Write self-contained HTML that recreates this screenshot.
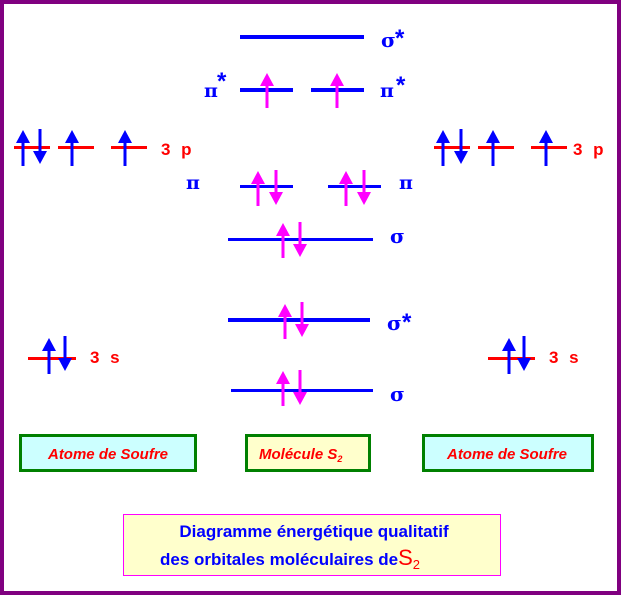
<!DOCTYPE html>
<html><head><meta charset="utf-8"><style>
html,body{margin:0;padding:0;background:#fff}
svg{display:block}
.b{font-family:"Liberation Sans",sans-serif;font-weight:bold}
.g{font-family:"DejaVu Serif","Liberation Serif",serif;font-weight:bold;fill:#0000ff}
</style></head><body>
<svg width="622" height="596" viewBox="0 0 622 596" xmlns="http://www.w3.org/2000/svg">
<defs>
<g id="upB"><rect x="-1.5" y="12" width="3" height="24" fill="#0000ff"/><polygon points="0,0 7,13 -7,13" fill="#0000ff"/></g>
<g id="dnB"><rect x="-1.5" y="0" width="3" height="24" fill="#0000ff"/><polygon points="0,35 7,22 -7,22" fill="#0000ff"/></g>
<g id="upM"><rect x="-1.5" y="12" width="3" height="23" fill="#ff00ff"/><polygon points="0,0 7,13 -7,13" fill="#ff00ff"/></g>
<g id="dnM"><rect x="-1.5" y="0" width="3" height="23" fill="#ff00ff"/><polygon points="0,35 7,22 -7,22" fill="#ff00ff"/></g>
</defs>
<rect x="2" y="2" width="617" height="591" fill="#fff" stroke="#800080" stroke-width="4"/>

<g fill="#ff0000">
<rect x="14" y="146" width="36" height="3"/><rect x="58" y="146" width="36" height="3"/><rect x="111" y="146" width="36" height="3"/>
<rect x="434" y="146" width="36" height="3"/><rect x="478" y="146" width="36" height="3"/><rect x="531" y="146" width="36" height="3"/>
<rect x="28" y="357" width="48" height="3"/><rect x="488" y="357" width="47" height="3"/>
</g>
<use href="#upB" x="23" y="130"/><use href="#dnB" x="40" y="129"/><use href="#upB" x="72" y="130"/><use href="#upB" x="125" y="130"/>
<use href="#upB" x="443" y="130"/><use href="#dnB" x="461" y="129"/><use href="#upB" x="493" y="130"/><use href="#upB" x="546" y="130"/>
<use href="#upB" x="49" y="338"/><use href="#dnB" x="65" y="336"/>
<use href="#upB" x="509" y="338"/><use href="#dnB" x="524" y="336"/>
<text class="b" x="161" y="155" font-size="17" fill="#ff0000" letter-spacing="3">3 p</text>
<text class="b" x="573" y="155" font-size="17" fill="#ff0000" letter-spacing="3">3 p</text>
<text class="b" x="90" y="363" font-size="17" fill="#ff0000" letter-spacing="3">3 s</text>
<text class="b" x="549" y="363" font-size="17" fill="#ff0000" letter-spacing="3">3 s</text>

<g fill="#0000ff">
<rect x="240" y="35" width="124" height="4"/>
<rect x="240" y="88" width="53" height="4"/><rect x="311" y="88" width="53" height="4"/>
<rect x="240" y="185" width="53" height="3"/><rect x="328" y="185" width="53" height="3"/>
<rect x="228" y="238" width="145" height="3"/>
<rect x="228" y="318" width="142" height="4"/>
<rect x="231" y="389" width="142" height="3"/>
</g>
<use href="#upM" x="267" y="73"/><use href="#upM" x="337" y="73"/>
<use href="#upM" x="258" y="171"/><use href="#dnM" x="276" y="170"/>
<use href="#upM" x="346" y="171"/><use href="#dnM" x="364" y="170"/>
<use href="#upM" x="283" y="223"/><use href="#dnM" x="300" y="222"/>
<use href="#upM" x="285" y="304"/><use href="#dnM" x="302" y="302"/>
<use href="#upM" x="283" y="371"/><use href="#dnM" x="300" y="370"/>

<text class="g" x="381" y="47" font-size="20">σ</text><text class="b" x="395" y="46" font-size="24" fill="#0000ff">*</text>
<text class="g" x="204" y="97" font-size="19">π</text><text class="b" x="217" y="89" font-size="24" fill="#0000ff">*</text>
<text class="g" x="380" y="97" font-size="19">π</text><text class="b" x="396" y="93" font-size="24" fill="#0000ff">*</text>
<text class="g" x="186" y="189" font-size="19">π</text>
<text class="g" x="399" y="189" font-size="19">π</text>
<text class="g" x="390" y="243" font-size="20">σ</text>
<text class="g" x="387" y="330" font-size="20">σ</text><text class="b" x="402" y="330" font-size="24" fill="#0000ff">*</text>
<text class="g" x="390" y="401" font-size="20">σ</text>

<rect x="20.5" y="435.5" width="175" height="35" fill="#ccffff" stroke="#008000" stroke-width="3"/>
<rect x="246.5" y="435.5" width="123" height="35" fill="#ffffcc" stroke="#008000" stroke-width="3"/>
<rect x="423.5" y="435.5" width="169" height="35" fill="#ccffff" stroke="#008000" stroke-width="3"/>
<text class="b" x="108" y="459" font-size="15" fill="#ff0000" text-anchor="middle" font-style="italic">Atome de Soufre</text>
<text class="b" x="259" y="459" font-size="15" fill="#ff0000" font-style="italic">Molécule S<tspan font-size="9" dy="3">2</tspan></text>
<text class="b" x="507" y="459" font-size="15" fill="#ff0000" text-anchor="middle" font-style="italic">Atome de Soufre</text>

<rect x="123.5" y="514.5" width="377" height="61" fill="#ffffcc" stroke="#ff00ff" stroke-width="1"/>
<text class="b" x="314" y="537" font-size="17" fill="#0000ff" text-anchor="middle">Diagramme énergétique qualitatif</text>
<text class="b" x="160" y="565" font-size="17" fill="#0000ff">des orbitales moléculaires de<tspan fill="#ff0000" font-size="22" font-weight="normal">S</tspan><tspan fill="#ff0000" font-size="13" dy="4" font-weight="normal">2</tspan></text>
</svg>
</body></html>
